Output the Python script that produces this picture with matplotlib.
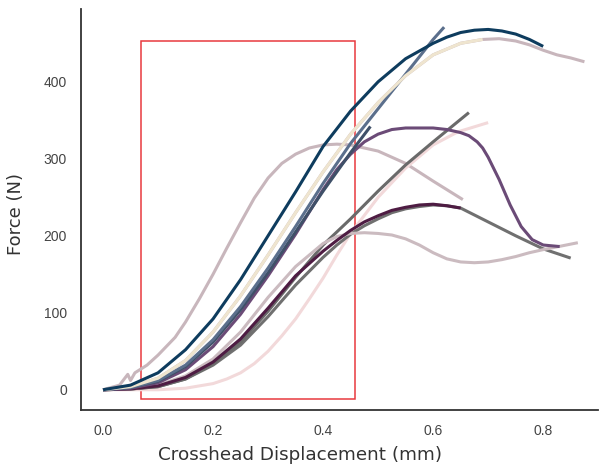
import numpy as np
import matplotlib.pyplot as plt
from matplotlib.patches import Rectangle

# displacement (mm) / force (N)
x_mauve_top = [0, 0.05, 0.1, 0.15, 0.2, 0.25, 0.3, 0.35, 0.4, 0.45, 0.5, 0.55, 0.6, 0.65, 0.69, 0.72, 0.75, 0.775, 0.8, 0.825, 0.85, 0.875]
y_mauve_top = [0, 4, 15, 38, 75, 122, 175, 230, 283, 332, 373, 408, 435, 450, 455, 456, 453, 448, 441, 435, 431, 426]

x_mauve_a = [0, 0.03, 0.045, 0.05, 0.058, 0.08, 0.1, 0.131, 0.15, 0.175, 0.2, 0.225, 0.25, 0.275, 0.3, 0.325, 0.35, 0.375, 0.4, 0.425, 0.45, 0.5, 0.55, 0.6, 0.654]
y_mauve_a = [0, 6, 20, 12, 22, 32, 45, 68, 88, 118, 150, 184, 217, 249, 275, 294, 306, 314, 318, 319, 318, 310, 294, 271, 247]

x_mauve_b = [0, 0.05, 0.1, 0.15, 0.2, 0.25, 0.3, 0.35, 0.4, 0.425, 0.45, 0.475, 0.5, 0.525, 0.55, 0.575, 0.6, 0.625, 0.65, 0.675, 0.7, 0.725, 0.75, 0.775, 0.8, 0.863]
y_mauve_b = [0, 1, 6, 18, 40, 75, 120, 160, 190, 199, 203, 204, 203, 201, 196, 188, 178, 170, 166, 165, 166, 169, 173, 178, 182, 191]

x_pink = [0, 0.1, 0.15, 0.2, 0.225, 0.25, 0.275, 0.3, 0.325, 0.35, 0.375, 0.4, 0.425, 0.45, 0.5, 0.55, 0.6, 0.645, 0.7]
y_pink = [0, 0, 2, 8, 14, 22, 34, 50, 70, 92, 118, 145, 175, 203, 250, 288, 318, 335, 347]

x_gray_tail = [0, 0.05, 0.1, 0.15, 0.2, 0.25, 0.3, 0.35, 0.4, 0.425, 0.45, 0.475, 0.5, 0.525, 0.55, 0.575, 0.6, 0.625, 0.65, 0.7, 0.75, 0.8, 0.85]
y_gray_tail = [0, 1, 4, 14, 32, 58, 95, 136, 172, 188, 202, 213, 222, 230, 235, 238, 240, 239, 236, 218, 200, 183, 171]

x_gray_line = [0, 0.05, 0.1, 0.15, 0.2, 0.25, 0.3, 0.35, 0.4, 0.45, 0.5, 0.55, 0.6, 0.665]
y_gray_line = [0, 1, 4, 14, 34, 62, 102, 146, 188, 222, 258, 292, 322, 360]

x_plum = [0, 0.05, 0.1, 0.15, 0.2, 0.25, 0.3, 0.35, 0.4, 0.425, 0.45, 0.475, 0.5, 0.525, 0.55, 0.575, 0.6, 0.625, 0.65]
y_plum = [0, 1, 5, 16, 36, 66, 106, 148, 180, 194, 207, 218, 226, 233, 237, 240, 241, 239, 236]

x_purple = [0, 0.05, 0.1, 0.15, 0.2, 0.25, 0.3, 0.35, 0.4, 0.425, 0.45, 0.475, 0.5, 0.525, 0.55, 0.6, 0.625, 0.65, 0.665, 0.68, 0.69, 0.7, 0.72, 0.74, 0.76, 0.78, 0.8, 0.83]
y_purple = [0, 2, 9, 26, 56, 98, 148, 202, 260, 286, 306, 322, 332, 338, 340, 340, 338, 334, 330, 322, 314, 302, 273, 240, 212, 195, 188, 186]

x_slate = [0, 0.05, 0.1, 0.15, 0.2, 0.25, 0.3, 0.35, 0.4, 0.45, 0.486]
y_slate = [0, 3, 11, 30, 62, 104, 152, 205, 258, 308, 342]

x_steel = [0, 0.05, 0.1, 0.15, 0.2, 0.25, 0.3, 0.35, 0.4, 0.45, 0.5, 0.55, 0.6, 0.62]
y_steel = [0, 3, 12, 32, 65, 108, 158, 212, 268, 320, 365, 410, 455, 471]

x_cream = [0, 0.05, 0.1, 0.15, 0.2, 0.25, 0.3, 0.35, 0.4, 0.45, 0.5, 0.55, 0.6, 0.65, 0.69]
y_cream = [0, 4, 15, 38, 75, 122, 175, 230, 283, 332, 373, 408, 435, 450, 455]

x_navy = [0, 0.05, 0.1, 0.15, 0.2, 0.25, 0.3, 0.35, 0.4, 0.45, 0.5, 0.55, 0.6, 0.625, 0.65, 0.675, 0.7, 0.725, 0.75, 0.775, 0.8]
y_navy = [0, 6, 22, 52, 92, 143, 200, 257, 316, 362, 400, 430, 450, 458, 464, 467, 468, 466, 462, 455, 446]

curves = [
    (x_mauve_top, y_mauve_top, "#c8b6bc"),
    (x_mauve_a, y_mauve_a, "#c8b6bc"),
    (x_pink, y_pink, "#f2d9da"),
    (x_gray_tail, y_gray_tail, "#707070"),
    (x_gray_line, y_gray_line, "#6a6a6a"),
    (x_mauve_b, y_mauve_b, "#cbbbc0"),
    (x_plum, y_plum, "#4e1c43"),
    (x_purple, y_purple, "#6b4b77"),
    (x_slate, y_slate, "#3f5068"),
    (x_steel, y_steel, "#5b6f8c"),
    (x_cream, y_cream, "#efe5cf"),
    (x_navy, y_navy, "#0e3c5e"),
]

fig = plt.figure(figsize=(6, 4.71), dpi=100)
ax = fig.add_axes([0.135, 0.13, 0.862, 0.85])

for xs, ys, c in curves:
    ax.plot(xs, ys, color=c, lw=2.2, solid_capstyle="butt", solid_joinstyle="round")

ax.add_patch(Rectangle((0.069, -12), 0.389, 465, fill=False,
                       edgecolor="#e8393f", lw=1.1))

ax.set_xlim(-0.04, 0.9)
ax.set_ylim(-26, 494)
ax.set_xticks([0.0, 0.2, 0.4, 0.6, 0.8])
ax.set_yticks([0, 100, 200, 300, 400])

for s in ["top", "right"]:
    ax.spines[s].set_visible(False)
for s in ["left", "bottom"]:
    ax.spines[s].set_color("#333333")
    ax.spines[s].set_linewidth(1.3)

ax.tick_params(length=0, pad=10, labelcolor="#444444")
for lab in ax.get_xticklabels() + ax.get_yticklabels():
    lab.set_family(["Liberation Sans", "DejaVu Sans"])
    lab.set_fontsize(10)

ax.set_xlabel("Crosshead Displacement (mm)", fontsize=13.2, color="#333333")
ax.xaxis.set_label_coords(0.424, -0.09)
ax.set_ylabel("Force (N)", fontsize=13, color="#333333")
ax.yaxis.set_label_coords(-0.108, 0.49)

fig.savefig("out.png", dpi=100)
